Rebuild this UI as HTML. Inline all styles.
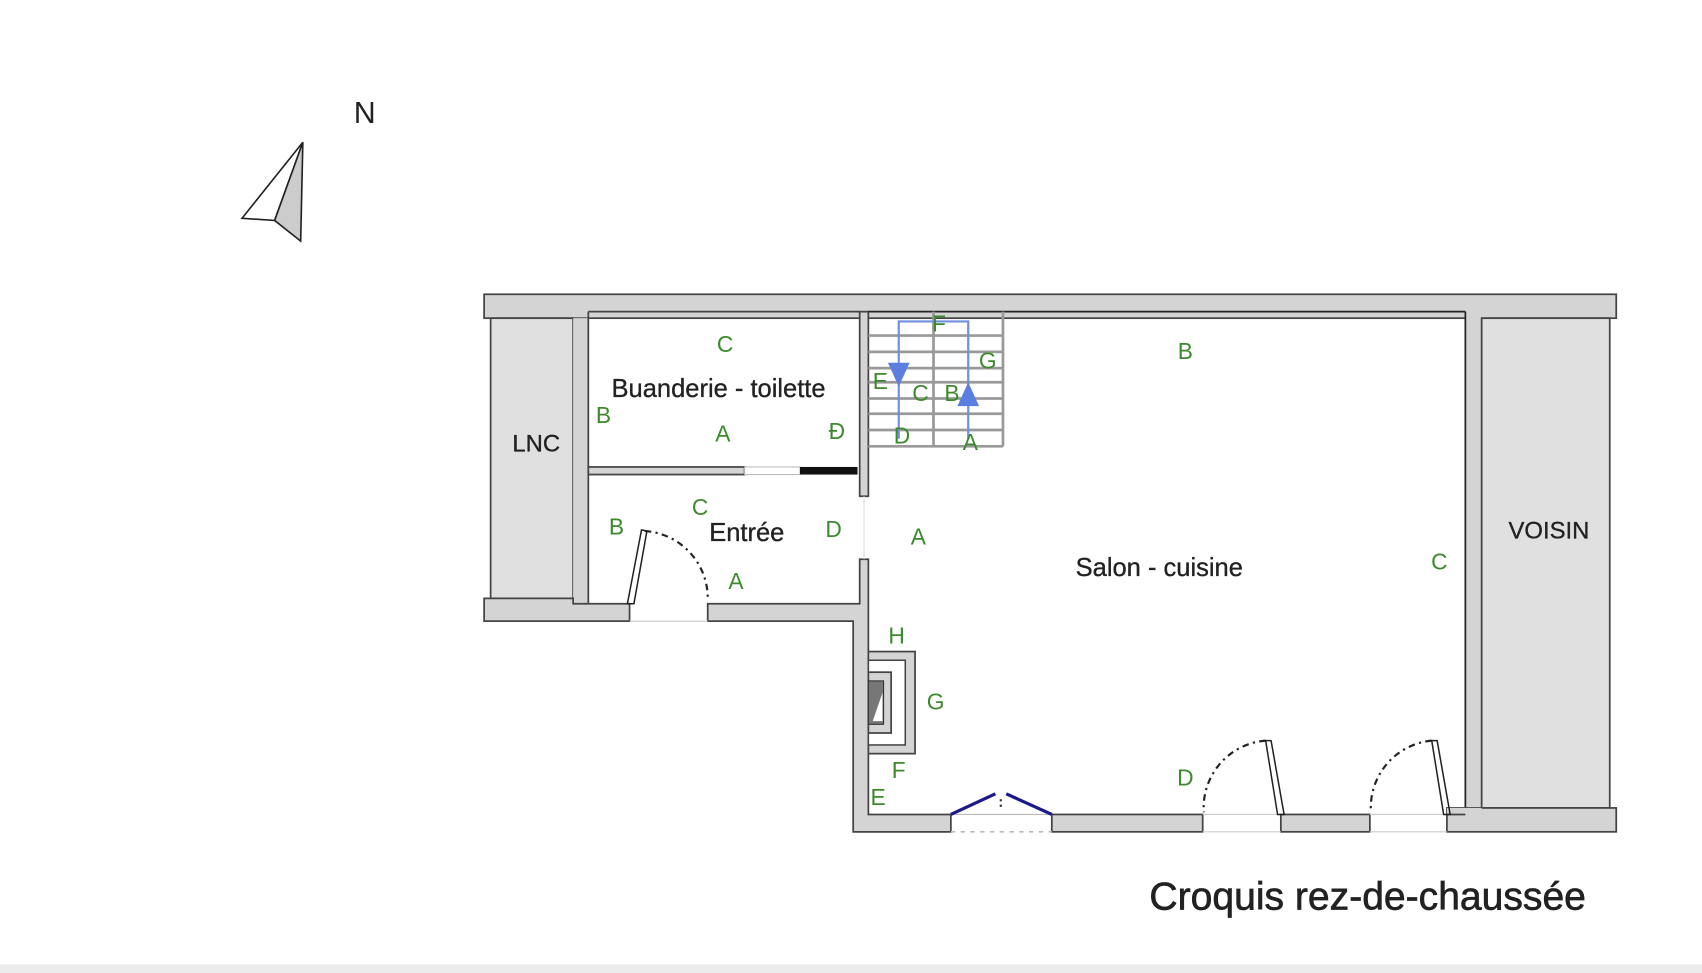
<!DOCTYPE html>
<html><head><meta charset="utf-8"><style>
html,body{margin:0;padding:0;background:#fff;width:1702px;height:973px;overflow:hidden}
svg{display:block}
.g{fill:#3d8a2e;font-family:"Liberation Sans",sans-serif;font-size:21px;text-anchor:middle;dominant-baseline:central}
.t{fill:#222;font-family:"Liberation Sans",sans-serif;font-size:23px;text-anchor:middle;dominant-baseline:central;stroke:#222;stroke-width:0.3}
.w{fill:#d4d4d4;stroke:#444;stroke-width:1.6}
</style></head><body>
<svg width="1702" height="973" viewBox="0 0 1568 896" preserveAspectRatio="none">
<rect x="0" y="0" width="1568" height="896" fill="#fff"/>
<rect x="0" y="888" width="1568" height="8" fill="#ececec"/>
<!-- compass -->
<polygon points="279,131 223,201 253,203" fill="#fff" stroke="#222" stroke-width="1.5"/>
<polygon points="279,131 253,203 277,222" fill="#ccc" stroke="#222" stroke-width="1.5"/>
<text x="336" y="104" class="t" style="font-size:28px;stroke-width:0">N</text>
<!-- top wall -->
<rect x="446" y="271" width="1043" height="22" class="w"/>
<!-- LNC -->
<rect x="452" y="293" width="76" height="258" fill="#e0e0e0" stroke="#444" stroke-width="1.6"/>
<rect x="528" y="293" width="14" height="263" fill="#d4d4d4"/>
<line x1="542" y1="287" x2="542" y2="556" stroke="#444" stroke-width="1.6"/>
<!-- left bottom wall -->
<polygon points="446,551 528,551 528,556 580,556 580,572 446,572" class="w"/>
<polygon points="652,556 792,556 792,515 800,515 800,750 876,750 876,766 786,766 786,572 652,572" class="w"/>
<!-- wall between rooms and salon upper -->
<rect x="792" y="287" width="8" height="170" class="w"/>
<!-- rooms outlines -->
<line x1="542" y1="287" x2="792" y2="287" stroke="#444" stroke-width="1.6"/>
<rect x="542" y="430" width="144" height="7" class="w"/>
<rect x="686" y="430" width="51" height="7" fill="#fff" stroke="#bbb" stroke-width="1"/>
<rect x="737" y="430" width="53" height="7" fill="#111"/>
<line x1="580" y1="572" x2="652" y2="572" stroke="#ccc" stroke-width="1"/>
<line x1="796" y1="457" x2="796" y2="515" stroke="#ddd" stroke-width="1"/>
<!-- salon right wall and voisin -->
<rect x="1350" y="287" width="15" height="463" fill="#d4d4d4"/>
<line x1="1350" y1="287" x2="1350" y2="750" stroke="#222" stroke-width="1.6"/>
<line x1="800" y1="287" x2="1350" y2="287" stroke="#222" stroke-width="1.6"/>
<rect x="1365" y="293" width="118" height="451" fill="#e0e0e0" stroke="#444" stroke-width="1.6"/>
<rect x="1333" y="744" width="156" height="22" class="w"/>
<rect x="1333" y="744" width="32" height="6" fill="#d4d4d4"/>
<line x1="1333" y1="750" x2="1350" y2="750" stroke="#444" stroke-width="1.6"/>
<!-- bottom wall segments -->
<rect x="969" y="750" width="139" height="16" class="w"/>
<rect x="1180" y="750" width="82" height="16" class="w"/>
<line x1="876" y1="750" x2="969" y2="750" stroke="#bbb" stroke-width="1"/>
<line x1="876" y1="766" x2="969" y2="766" stroke="#bbb" stroke-width="1.5" stroke-dasharray="4,5"/>
<line x1="1108" y1="750" x2="1180" y2="750" stroke="#ccc" stroke-width="1"/>
<line x1="1108" y1="766" x2="1180" y2="766" stroke="#ccc" stroke-width="1"/>
<line x1="1262" y1="750" x2="1333" y2="750" stroke="#ccc" stroke-width="1"/>
<line x1="1262" y1="766" x2="1333" y2="766" stroke="#ccc" stroke-width="1"/>
<!-- window -->
<line x1="876" y1="750" x2="917" y2="731" stroke="#1a1a8c" stroke-width="3"/>
<line x1="927" y1="731" x2="969" y2="750" stroke="#1a1a8c" stroke-width="3"/>
<line x1="922" y1="736" x2="922" y2="746" stroke="#333" stroke-width="2" stroke-dasharray="2,3"/>
<!-- doors -->
<g fill="none" stroke="#222" stroke-width="1.4">
<polygon points="578,556 584,556 596,489 591,488"/>
<path d="M594,489 A62,62 0 0 1 652,553" stroke-dasharray="6,4,2,4" stroke-width="2"/>
<polygon points="1177,750 1183,750 1171,682 1166,682"/>
<path d="M1166,682 A62,62 0 0 0 1109,748" stroke-dasharray="6,4,2,4" stroke-width="2"/>
<polygon points="1330,750 1336,750 1324,682 1319,682"/>
<path d="M1319,682 A62,62 0 0 0 1263,748" stroke-dasharray="6,4,2,4" stroke-width="2"/>
</g>
<!-- fireplace -->
<rect x="800" y="600" width="43" height="94" class="w"/>
<rect x="800" y="608" width="34" height="78" fill="#fff" stroke="#444" stroke-width="1.4"/>
<rect x="800" y="619" width="21" height="56" class="w"/>
<rect x="800" y="627" width="14" height="40" fill="#777" stroke="#333" stroke-width="1"/>
<polygon points="804,664 813,638 813,664" fill="#fff"/>
<!-- stairs -->
<g stroke="#999" stroke-width="2.5" fill="none">
<line x1="800" y1="309" x2="924" y2="309"/><line x1="800" y1="324" x2="924" y2="324"/>
<line x1="800" y1="339" x2="924" y2="339"/><line x1="800" y1="352" x2="924" y2="352"/>
<line x1="800" y1="367" x2="924" y2="367"/><line x1="800" y1="381" x2="924" y2="381"/>
<line x1="800" y1="396" x2="924" y2="396"/><line x1="800" y1="411" x2="924" y2="411"/>
<line x1="860" y1="287" x2="860" y2="411"/><line x1="924" y1="287" x2="924" y2="411"/>
</g>
<polyline points="828,404 828,296 892,296 892,404" fill="none" stroke="#6f8fe0" stroke-width="2"/>
<polygon points="818,334 838,334 828,356" fill="#5b7fe0"/>
<polygon points="882,374 902,374 892,352" fill="#5b7fe0"/>
<!-- labels -->
<text class="t" x="494" y="409" style="font-size:22px">LNC</text>
<text class="t" x="662" y="358" style="font-size:23.5px">Buanderie - toilette</text>
<text class="t" x="688" y="491" style="font-size:23.5px">Entrée</text>
<text class="t" x="1068" y="523" style="font-size:23.5px">Salon - cuisine</text>
<text class="t" x="1427" y="489" style="font-size:22px">VOISIN</text>
<text class="t" x="1260" y="826" style="font-size:36px;stroke-width:0.6">Croquis rez-de-chaussée</text>
<g>
<text class="g" x="668" y="317">C</text><text class="g" x="556" y="382">B</text>
<text class="g" x="666" y="399">A</text><text class="g" x="771" y="397">Ð</text>
<text class="g" x="645" y="467">C</text><text class="g" x="568" y="485">B</text>
<text class="g" x="768" y="487">D</text><text class="g" x="678" y="535">A</text>
<text class="g" x="846" y="494">A</text><text class="g" x="1092" y="323">B</text>
<text class="g" x="1326" y="517">C</text>
<text class="g" x="865" y="298">F</text><text class="g" x="910" y="332">G</text>
<text class="g" x="811" y="351">E</text><text class="g" x="848" y="362">C</text>
<text class="g" x="877" y="362">B</text><text class="g" x="831" y="401">D</text>
<text class="g" x="894" y="407">A</text>
<text class="g" x="826" y="585">H</text><text class="g" x="862" y="646">G</text>
<text class="g" x="828" y="709">F</text><text class="g" x="809" y="734">E</text>
<text class="g" x="1092" y="716">D</text>
</g>
</svg>
</body></html>
